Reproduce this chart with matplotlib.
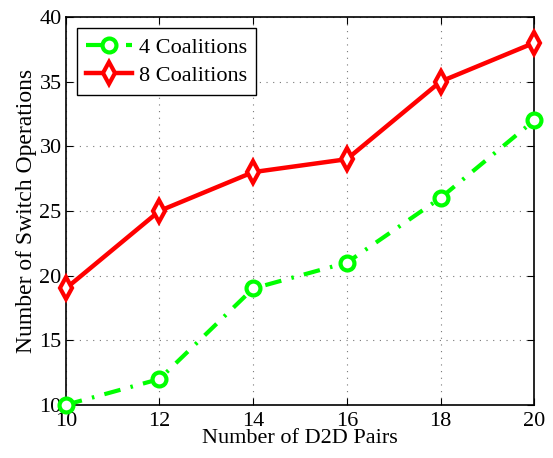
import matplotlib.pyplot as plt
import numpy as np

plt.rcParams['font.family'] = ['Liberation Serif', 'DejaVu Serif']

pairs = np.array([10, 12, 14, 16, 18, 20])
coal4 = np.array([10, 12, 19, 21, 26, 32])
coal8 = np.array([19, 25, 28, 29, 35, 38])

fig = plt.figure(figsize=(5.53, 4.58), dpi=100)
ax = fig.add_axes([0.119, 0.116, 0.847, 0.847])

ax.plot(pairs, coal4, color='#00ff00', linestyle=(0, (4, 2.5, 0.6, 2.5)), linewidth=3,
        marker='o', markersize=10, markerfacecolor='white', markeredgewidth=3,
        label='4 Coalitions', clip_on=False, zorder=3)
ax.plot(pairs, coal8, color='#ff0000', linestyle='-', linewidth=3.2,
        marker='d', markersize=11, markerfacecolor='white', markeredgewidth=3,
        label='8 Coalitions', clip_on=False, zorder=3)

ax.set_xlim(10, 20)
ax.set_ylim(10, 40)
ax.set_xticks(np.arange(10, 21, 2))
ax.set_yticks(np.arange(10, 41, 5))
ax.grid(True, linestyle=(0, (1, 5)), color='#777777', linewidth=0.8)
ax.tick_params(direction='in', labelsize=16, length=5, top=True, right=True, pad=3)
ax.tick_params(axis='x', pad=5)
for s in ax.spines.values():
    s.set_linewidth(1.2)

ax.set_xlabel('Number of D2D Pairs', fontsize=16, labelpad=-1)
ax.set_ylabel('Number of Switch Operations', fontsize=17, labelpad=2)

leg = ax.legend(loc='upper left', fontsize=16, fancybox=False, framealpha=1,
                edgecolor='black', handlelength=2.1, borderaxespad=0.5,
                labelspacing=0.35, handletextpad=0.3, borderpad=0.4)
leg.get_frame().set_linewidth(1)

fig.savefig('out.png', dpi=100)
